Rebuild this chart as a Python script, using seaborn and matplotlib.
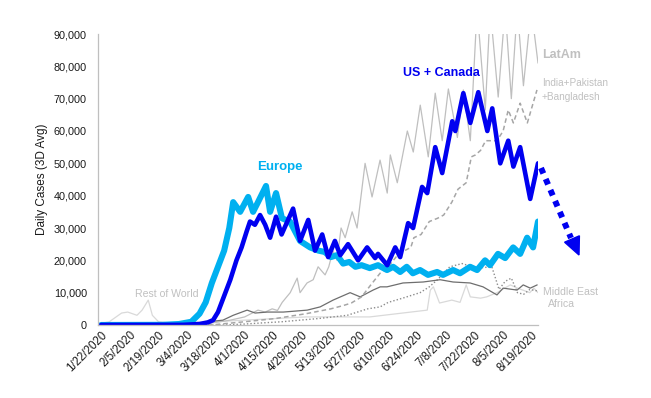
import numpy as np
import pandas as pd
import matplotlib
matplotlib.use("Agg")
import matplotlib.pyplot as plt
import matplotlib.transforms as mtransforms
from matplotlib.patches import Polygon
import seaborn as sns

# ---------------- data (day offset from 1/22/2020, 3-day avg daily cases) -------------
tick_labels = ["1/22/2020", "2/5/2020", "2/19/2020", "3/4/2020", "3/18/2020", "4/1/2020",
               "4/15/2020", "4/29/2020", "5/13/2020", "5/27/2020", "6/10/2020", "6/24/2020",
               "7/8/2020", "7/22/2020", "8/5/2020", "8/19/2020"]
tick_days = [0, 14, 28, 42, 56, 70, 84, 98, 112, 126, 140, 154, 168, 182, 196, 210]

us_days = [0, 40, 48, 52, 54.6, 57, 60, 63, 66, 68.5, 71, 72.6, 75, 77.5, 80, 82.4, 85.3, 88,
           93.6, 97, 101, 104.3, 107.8, 110.7, 114, 116.6, 120.4, 125.3, 129.7, 133.6, 135,
           139.5, 143.4, 145.8, 149.7, 152.1, 156.5, 159, 162.9, 166.3, 171.2, 172.7, 176.6,
           180, 183.9, 188.3, 190.7, 194.6, 198.5, 201, 204.3, 209.2, 213]
us_vals = [0, 50, 300, 800, 1500, 4000, 9000, 14000, 20000, 24000, 29000, 32000, 31000, 34000,
           31000, 27000, 33500, 28000, 36000, 26000, 32500, 23000, 28000, 21000, 26000, 21600,
           25000, 20000, 24000, 20700, 22000, 18500, 24000, 21000, 31500, 30000, 42700, 40800,
           55000, 47000, 63000, 60000, 71700, 62500, 72000, 60000, 67000, 50000, 57000, 49000,
           55000, 39000, 50000]

europe_days = [0, 30, 38, 44, 48, 51, 54, 57, 60, 62.5, 64.4, 67.8, 71.7, 74.1, 76.5, 80.4,
               82.4, 85.3, 88.2, 92.1, 97, 101.9, 106, 109, 112, 115, 118, 121, 124, 127, 131,
               135, 139.4, 142.4, 145.8, 149, 152, 155.5, 159.4, 163.8, 166.7, 171.6, 175,
               179.9, 183.3, 187.2, 189.6, 193.5, 197, 200.9, 204.3, 207.7, 210.6, 213]
europe_vals = [0, 50, 300, 1000, 3500, 7000, 13000, 18000, 23000, 30000, 38000, 35000, 39600,
               35000, 38000, 43000, 35000, 40800, 33000, 32000, 26000, 24000, 23000, 22600,
               21000, 21600, 19000, 19500, 18000, 18500, 17600, 18500, 17000, 18000, 16400,
               18000, 16000, 17000, 15500, 16400, 15500, 17000, 16000, 18000, 17000, 20000,
               18500, 22000, 20700, 24000, 22000, 27000, 24000, 32000]

latam_days = [0, 40, 50, 56, 63, 70, 76.5, 80, 83.4, 86, 88.3, 92.2, 95.6, 97, 100.4, 103.4,
              105.8, 109.2, 111, 113, 115, 117, 119, 122.4, 124.8, 128.7, 132.1, 136, 139.5,
              141, 144.4, 149.3, 152.2, 155.6, 159.5, 162.9, 166.3, 169.3, 173.7, 176.6, 180,
              183.3, 187.3, 189.7, 193.6, 197, 200, 202.9, 205.9, 209.7, 213]
latam_vals = [0, 0, 300, 800, 1500, 2500, 4600, 4000, 5000, 4500, 7000, 10000, 14500, 10000,
              13000, 14000, 18000, 15500, 18000, 23000, 20000, 30000, 27000, 35000, 30000, 50000,
              39600, 51000, 40800, 52600, 44000, 60000, 53500, 68000, 52000, 71700, 57000, 73000,
              58000, 72700, 57000, 98000, 66500, 98000, 70500, 98000, 70000, 98000, 74000,
              98000, 81000]

india_days = [0, 40, 55, 70, 85, 100, 112, 118, 122, 127, 131, 136, 140, 145, 148, 151,
              152.5, 156, 160, 164, 167, 171, 174, 178, 180.5, 182.5, 185, 187.5, 193, 196,
              198.5, 201, 204.3, 207.8, 212.5]
india_vals = [0, 0, 100, 1000, 2000, 3500, 5000, 6000, 6800, 8700, 12000, 16000, 18000, 22000,
              23000, 24000, 27000, 28000, 32000, 33000, 34000, 38000, 42000, 44000, 52000,
              52600, 54000, 57000, 57000, 60000, 66500, 62500, 68600, 62500, 72700]

mideast_days = [0, 30, 45, 52, 59.4, 64.4, 71.2, 75.1, 81, 88.8, 100.5, 106.8, 113.1, 121.4,
                126.3, 132.6, 136.1, 139.4, 147.2, 157, 165.3, 171.6, 179.9, 186.2, 193, 196,
                202.8, 205.8, 209.2, 212.6]
mideast_vals = [0, 0, 300, 1000, 1500, 3000, 4600, 3700, 4000, 4000, 4600, 5600, 7700, 10000,
                8700, 10800, 11800, 11800, 13000, 13300, 14000, 13300, 13000, 11800, 9300,
                11400, 10800, 12400, 11400, 12400]

africa_days = [0, 60, 70, 80, 88, 106, 120, 130, 136, 140, 147, 155.5, 160, 164, 170, 176,
               183, 190.5, 194, 197, 200, 203, 206, 209, 213]
africa_vals = [0, 0, 300, 700, 1000, 2000, 3000, 5000, 5600, 7000, 8300, 10000, 11800, 14000,
               18000, 19000, 17600, 18000, 11000, 13500, 14500, 10000, 9500, 11000, 10500]

row_days = [0, 4, 10, 13, 17.5, 20, 23, 25, 28, 35, 45, 55, 70, 85, 100, 115, 131, 147, 159,
            160.5, 162, 165, 171, 175, 178, 180, 185, 188, 193, 199.5, 203, 209, 211, 213]
row_vals = [500, 1000, 3700, 4000, 3000, 4600, 7700, 3000, 1000, 500, 800, 1000, 1500, 2000,
            2500, 2500, 2500, 3700, 4600, 10800, 11800, 6800, 7700, 7000, 12400, 8700, 8300,
            8700, 10000, 12400, 11400, 10000, 11400, 10000]

# ---------------- figure ----------------
sns.set_theme(style="white")
plt.rcParams["font.family"] = ["Liberation Sans", "DejaVu Sans"]

W, H = 651, 398
fig = plt.figure(figsize=(W / 100, H / 100), dpi=100)
L, R, T, B = 98, 538, 34, 325
ax = fig.add_axes([L / W, 1 - B / H, (R - L) / W, (B - T) / H])
pix = mtransforms.Affine2D().scale(1 / W, -1 / H).translate(0, 1) + fig.transFigure


def draw(days, vals, **kw):
    df = pd.DataFrame({"day": days, "cases": vals})
    sns.lineplot(data=df, x="day", y="cases", ax=ax, estimator=None, sort=False, **kw)


draw(row_days, row_vals, color="#D9D9D9", linewidth=0.9)
draw(latam_days, latam_vals, color="#BFBFBF", linewidth=0.9)
draw(africa_days, africa_vals, color="#8C8C8C", linewidth=1.0, linestyle=(0, (1, 1.5)))
draw(mideast_days, mideast_vals, color="#6E6E6E", linewidth=0.9)
draw(india_days, india_vals, color="#A6A6A6", linewidth=1.1, linestyle=(0, (3, 2)))
draw(europe_days, europe_vals, color="#00B0F0", linewidth=4.4, solid_joinstyle="round",
     solid_capstyle="round")
draw(us_days, us_vals, color="#0000F0", linewidth=3.3, solid_joinstyle="round",
     solid_capstyle="round")

ax.set_xlim(-1.5, 213)
ax.set_ylim(0, 90000)
ax.set_yticks(np.arange(0, 90001, 10000))
ax.set_yticklabels([f"{v:,}" for v in range(0, 90001, 10000)], fontsize=7.8, color="#1a1a1a")
ax.set_xticks(tick_days)
ax.set_xticklabels(tick_labels, rotation=45, ha="right", rotation_mode="anchor",
                   fontsize=8.3, color="#1a1a1a")
ax.tick_params(axis="both", length=0, pad=3)
ax.tick_params(axis="y", pad=8)
ax.set_xlabel("")
ax.set_ylabel("Daily Cases (3D Avg)", fontsize=8.5, color="#1a1a1a")
ax.yaxis.set_label_coords((48 - L) / (R - L), (B - 179) / (B - T))
for s in ["top", "right"]:
    ax.spines[s].set_visible(False)
for s in ["left", "bottom"]:
    ax.spines[s].set_color("#BFBFBF")
    ax.spines[s].set_linewidth(0.9)
ax.grid(False)

# ---------------- annotations ----------------
lab = "#C0C0C0"
fig.text(280, 167, "Europe", transform=pix, color="#00B0F0", fontsize=9.5,
         fontweight="bold", ha="center", va="center")
fig.text(441, 73, "US + Canada", transform=pix, color="#0000F0", fontsize=9,
         fontweight="bold", ha="center", va="center")
fig.text(542, 55, "LatAm", transform=pix, color=lab, fontsize=9, fontweight="bold",
         ha="left", va="center")
fig.text(542, 83, "India+Pakistan", transform=pix, color=lab, fontsize=7.2,
         ha="left", va="center")
fig.text(542, 97, "+Bangladesh", transform=pix, color=lab, fontsize=7.2,
         ha="left", va="center")
fig.text(543, 292, "Middle East", transform=pix, color=lab, fontsize=7.6,
         ha="left", va="center")
fig.text(548, 304, "Africa", transform=pix, color=lab, fontsize=7.6,
         ha="left", va="center")
fig.text(135, 294, "Rest of World", transform=pix, color=lab, fontsize=7.6,
         ha="left", va="center")

# dotted trend arrow
ax.plot([541, 571], [168, 238], transform=pix, color="#0000F0", linewidth=4.3,
        linestyle=(0, (1, 1)), solid_capstyle="butt", dash_capstyle="butt", clip_on=False)
head = Polygon([[564.6, 242.2], [579.4, 235.8], [579, 255]], closed=True,
               transform=pix, color="#0000F0", clip_on=False)
fig.patches.append(head)

fig.savefig("out.png", dpi=100)
